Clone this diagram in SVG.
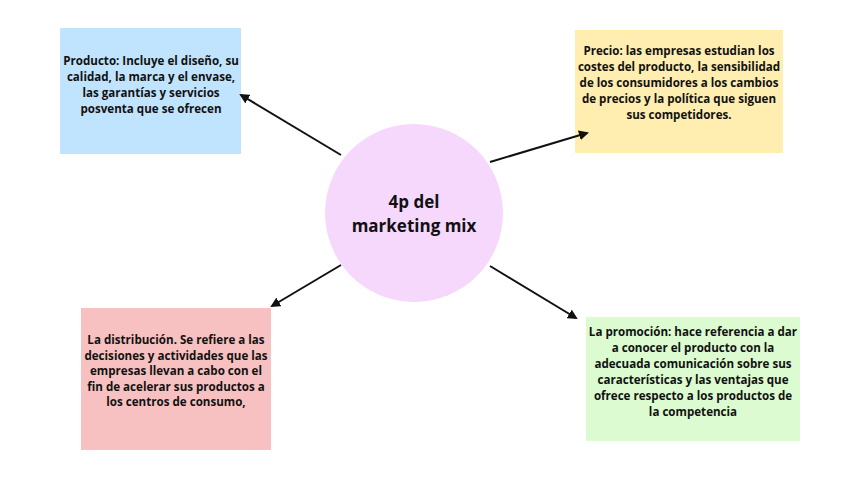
<svg xmlns="http://www.w3.org/2000/svg" width="848" height="477" viewBox="0 0 848 477">
<style>
.t{font-family:"Open Sans","Liberation Sans",sans-serif;font-weight:700;font-size:11.6px;fill:#111;text-anchor:middle}
.c{font-family:"Open Sans","Liberation Sans",sans-serif;font-weight:700;font-size:17px;fill:#111;text-anchor:middle}
.e{stroke:#111;stroke-width:2;fill:none;marker-end:url(#ah)}
</style>
<defs>
<marker id="ah" viewBox="0 0 10 10" refX="8" refY="5" markerWidth="5" markerHeight="5" orient="auto" markerUnits="strokeWidth">
<path d="M0,0 L10,5 L0,10 z" fill="#111"/>
</marker>
</defs>
<rect width="848" height="477" fill="#fff"/>
<g id="center">
<circle cx="414" cy="213" r="89" fill="#f5d8fc"/>
<text class="c" x="414" y="208">4p del</text>
<text class="c" x="414" y="232">marketing mix</text>
</g>
<g id="producto">
<rect x="60" y="28" width="181" height="126" fill="#c1e4fe"/>
<text class="t" x="151" y="65">Producto: Incluye el diseño, su</text>
<text class="t" x="151" y="81">calidad, la marca y el envase,</text>
<text class="t" x="151" y="97">las garantías y servicios</text>
<text class="t" x="151" y="113">posventa que se ofrecen</text>
</g>
<g id="precio">
<rect x="575" y="30" width="208" height="123" fill="#ffeeb0"/>
<text class="t" x="679" y="55">Precio: las empresas estudian los</text>
<text class="t" x="679" y="71">costes del producto, la sensibilidad</text>
<text class="t" x="679" y="87">de los consumidores a los cambios</text>
<text class="t" x="679" y="103">de precios y la política que siguen</text>
<text class="t" x="679" y="119">sus competidores.</text>
</g>
<g id="distribucion">
<rect x="81" y="308" width="190" height="142" fill="#f8c1c1"/>
<text class="t" x="176" y="344">La distribución. Se refiere a las</text>
<text class="t" x="176" y="359.5">decisiones y actividades que las</text>
<text class="t" x="176" y="375">empresas llevan a cabo con el</text>
<text class="t" x="176" y="390.5">fin de acelerar sus productos a</text>
<text class="t" x="176" y="406">los centros de consumo,</text>
</g>
<g id="promocion">
<rect x="586" y="317" width="214" height="124" fill="#dcfbd0"/>
<text class="t" x="693" y="336">La promoción: hace referencia a dar</text>
<text class="t" x="693" y="352">a conocer el producto con la</text>
<text class="t" x="693" y="368">adecuada comunicación sobre sus</text>
<text class="t" x="693" y="384">características y las ventajas que</text>
<text class="t" x="693" y="400">ofrece respecto a los productos de</text>
<text class="t" x="693" y="416">la competencia</text>
</g>
<g id="connectors">
<line class="e" x1="341" y1="155" x2="241" y2="95"/>
<line class="e" x1="490" y1="162" x2="587" y2="133"/>
<line class="e" x1="341" y1="265" x2="272" y2="306"/>
<line class="e" x1="490" y1="266" x2="576" y2="318"/>
</g>
</svg>
